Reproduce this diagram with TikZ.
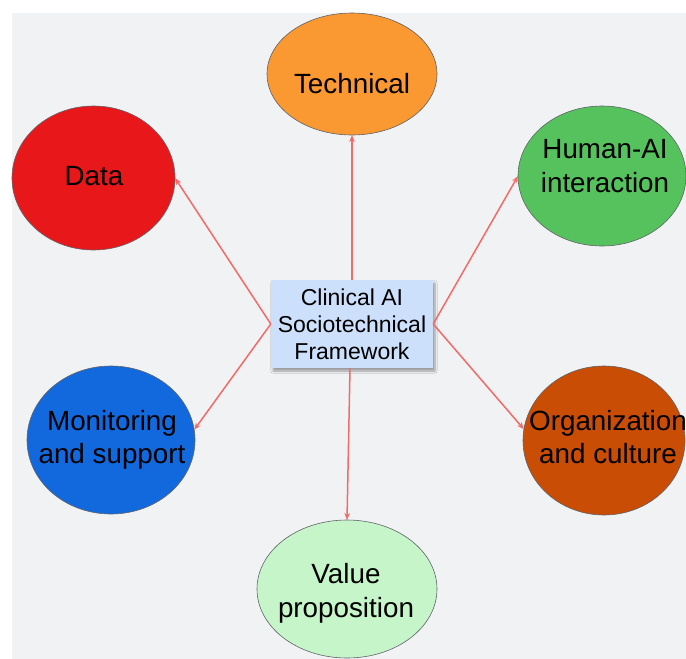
\documentclass[tikz,border=0pt]{standalone}
\usepackage{fontspec}
\setmainfont{Liberation Sans}
\usetikzlibrary{shapes.geometric,arrows.meta,shadows.blur}
\definecolor{bgpanel}{HTML}{F1F2F4}
\definecolor{linkred}{HTML}{F26B6B}
\definecolor{techorange}{HTML}{FA9832}
\definecolor{datared}{HTML}{E8171A}
\definecolor{humangreen}{HTML}{55C25E}
\definecolor{monblue}{HTML}{1269DD}
\definecolor{orgbrown}{HTML}{C94D04}
\definecolor{valuegreen}{HTML}{C5F5C8}
\definecolor{boxblue}{HTML}{CCE0FB}
\definecolor{rimgray}{HTML}{5F6368}
\tikzset{
  dim/.style={ellipse,draw=rimgray,line width=0.6pt,inner sep=0pt,outer sep=0pt},
  lbl/.style={align=center,font=\fontsize{27.8}{33.5}\selectfont,text=black,inner sep=0pt},
  hub/.style={fill=boxblue,draw=none,align=center,inner sep=0pt,
    minimum width=162pt,minimum height=88pt,
    font=\fontsize{23}{27.2}\selectfont,
    blur shadow={shadow xshift=2pt,shadow yshift=-3pt,shadow blur steps=6,shadow opacity=35}},
  link/.style={draw=linkred,line width=1.5pt,-{Stealth[length=7pt,width=5.5pt]}}
}
\begin{document}
\begin{tikzpicture}[x=1pt,y=-1pt]
\useasboundingbox (0,0) rectangle (686,659);
\begin{scope}
\clip (0,0) rectangle (686,659);
\fill[bgpanel] (12,13) rectangle (686,659);

% the six dimensions
\node[dim,fill=techorange,minimum width=170pt,minimum height=122pt] (tech) at (352,74) {};
\node[dim,fill=datared,minimum width=163pt,minimum height=144pt] (data) at (93.5,178) {};
\node[dim,fill=humangreen,minimum width=168pt,minimum height=140pt] (human) at (602,176) {};
\node[dim,fill=monblue,minimum width=168pt,minimum height=148pt] (monitor) at (111,440) {};
\node[dim,fill=orgbrown,minimum width=162pt,minimum height=149pt] (org) at (604,440.5) {};
\node[dim,fill=valuegreen,minimum width=180pt,minimum height=138pt] (value) at (347,589) {};

\node[lbl] (techtxt) at (352,84) {Technical};
\node[lbl] (datatxt) at (94,176) {Data};
\node[lbl] (humantxt) at (605,166) {Human-AI\\interaction};
\node[lbl] (monitortxt) at (112,440) {Monitoring\\and support};
\node[lbl] (orgtxt) at (608,437) {Organization\\and culture};
\node[lbl] (valuetxt) at (346,593.5) {Value\\proposition};

% the framework hub
\node[hub] (hub) at (352,324) {Clinical AI\\Sociotechnical\\Framework};

% links from the hub
\draw[link] (hub.north) -- (tech.south);
\draw[link] (hub.west) -- (data.east);
\draw[link] (hub.west) -- (monitor.7);
\draw[link] (hub.east) -- (human.west);
\draw[link] (hub.east) -- (org.172);
\draw[link] ([xshift=-2pt]hub.south) -- (value.north);
\end{scope}
\end{tikzpicture}
\end{document}
